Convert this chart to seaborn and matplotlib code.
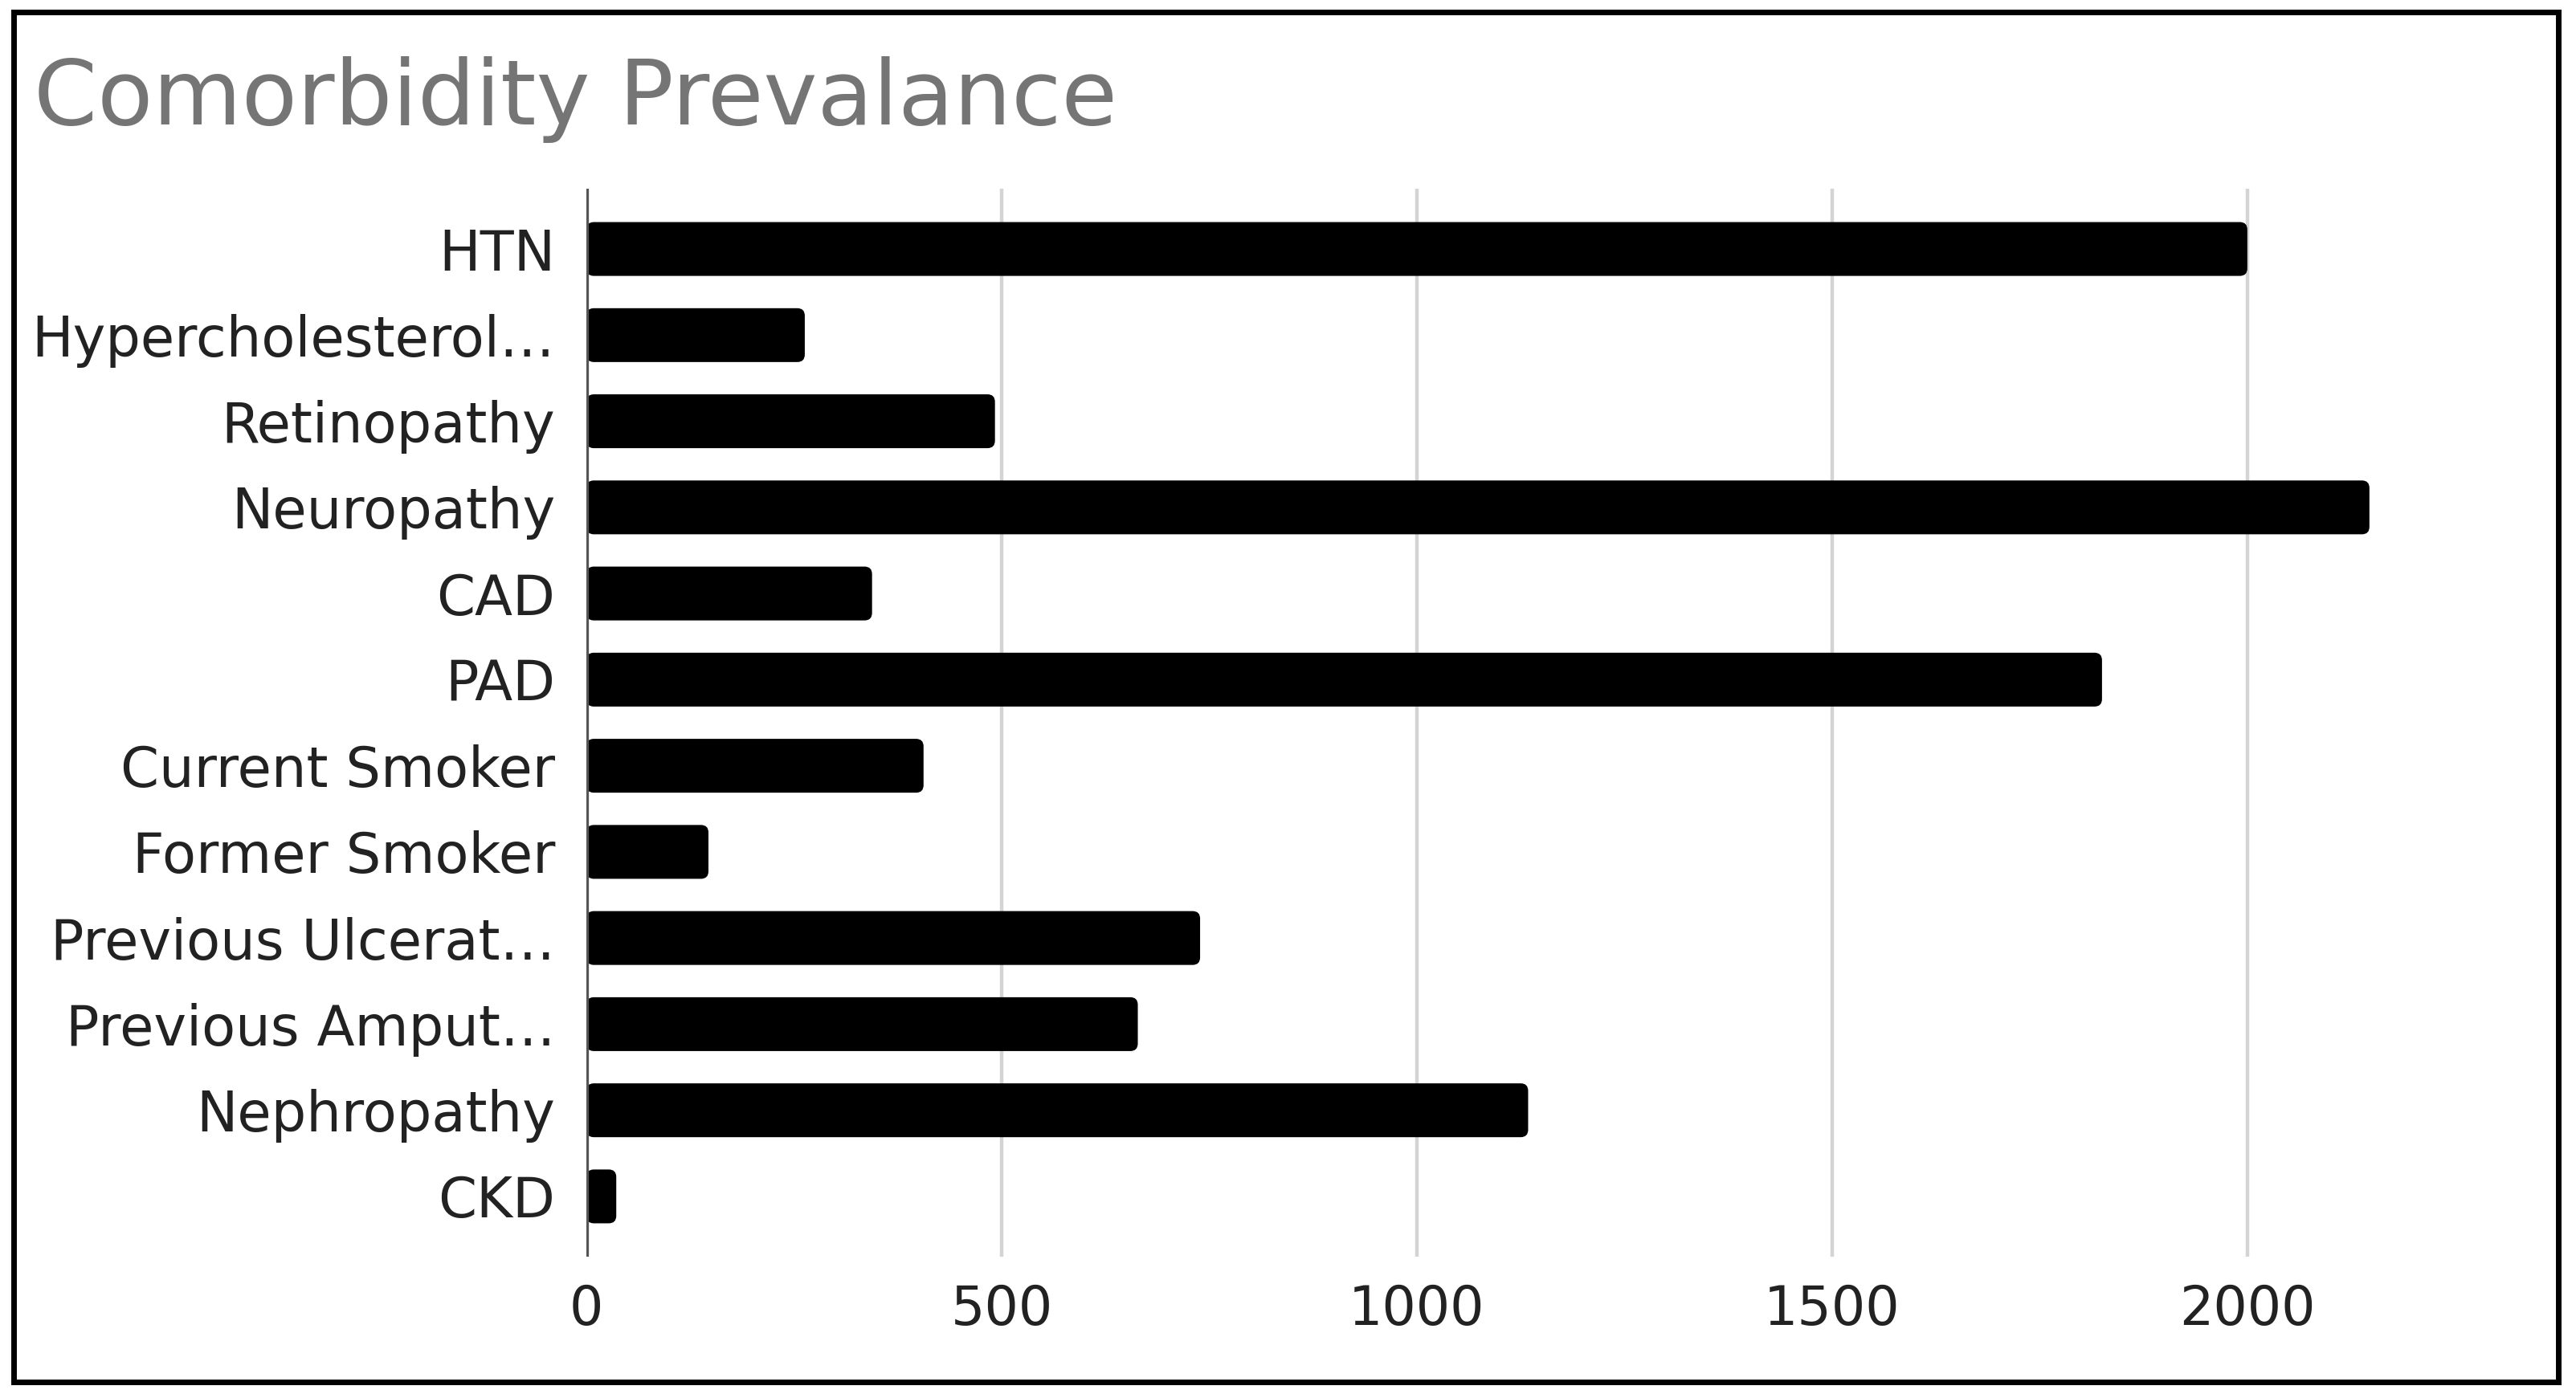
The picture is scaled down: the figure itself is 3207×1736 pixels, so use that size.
import matplotlib
matplotlib.use("Agg")
import matplotlib.pyplot as plt
import seaborn as sns
import pandas as pd
from matplotlib.patches import FancyBboxPatch, Rectangle

categories = ["HTN", "Hypercholesterol…", "Retinopathy", "Neuropathy", "CAD", "PAD",
              "Current Smoker", "Former Smoker", "Previous Ulcerat…", "Previous Amput…",
              "Nephropathy", "CKD"]
counts = [2000, 263, 492, 2147, 344, 1825, 406, 147, 739, 664, 1134, 36]
x_ticks = [0, 500, 1000, 1500, 2000]
title = "Comorbidity Prevalance"

sns.set_theme(style="white")
plt.rcParams["font.family"] = ["DejaVu Sans"]

W, H = 3207, 1736
fig = plt.figure(figsize=(W / 100, H / 100), dpi=100)
fig.patch.set_facecolor("white")

ax = fig.add_axes([730 / W, 1 - 1565 / H, 2378 / W, (1565 - 235) / H])
df = pd.DataFrame({"cat": categories, "val": counts})
sns.barplot(data=df, x="val", y="cat", orient="h", color="black", saturation=1,
            width=0.625, ax=ax, zorder=3)

# rounded bar ends
for p in list(ax.patches):
    x0, y0 = p.get_x(), p.get_y()
    w, h = p.get_width(), p.get_height()
    p.remove()
    fb = FancyBboxPatch((x0, y0), w, h, boxstyle="round,pad=0,rounding_size=9",
                        mutation_aspect=0.00964, facecolor="black", edgecolor="none",
                        zorder=3)
    ax.add_patch(fb)

ax.set_xlim(0, 2300)
ax.set_ylim(len(categories) - 1 + 0.7, -0.7)
ax.set_xticks(x_ticks)
ax.set_xticklabels([str(t) for t in x_ticks])
ax.set_xlabel("")
ax.set_ylabel("")
for s in ax.spines.values():
    s.set_visible(False)
ax.grid(False)
for t in x_ticks[1:]:
    ax.axvline(t, color="#d4d4d4", lw=3.2, zorder=1)
ax.axvline(0, color="#555555", lw=3.8, zorder=4)
ax.tick_params(axis="y", length=0, pad=28, labelsize=49.5, labelcolor="#222222")
ax.tick_params(axis="x", length=0, pad=24, labelsize=48, labelcolor="#222222")

fig.text(42 / W, 1 - 155 / H, title, fontsize=81.5, color="#757575",
         ha="left", va="baseline")

# outer frame
fig.patches.append(Rectangle((16.5 / W, 1 - 1721 / H), (3184.5 - 16.5) / W, (1721 - 14.5) / H,
                             transform=fig.transFigure, fill=False, edgecolor="black",
                             lw=5, zorder=10))

fig.savefig("out.png", dpi=100, facecolor="white")
